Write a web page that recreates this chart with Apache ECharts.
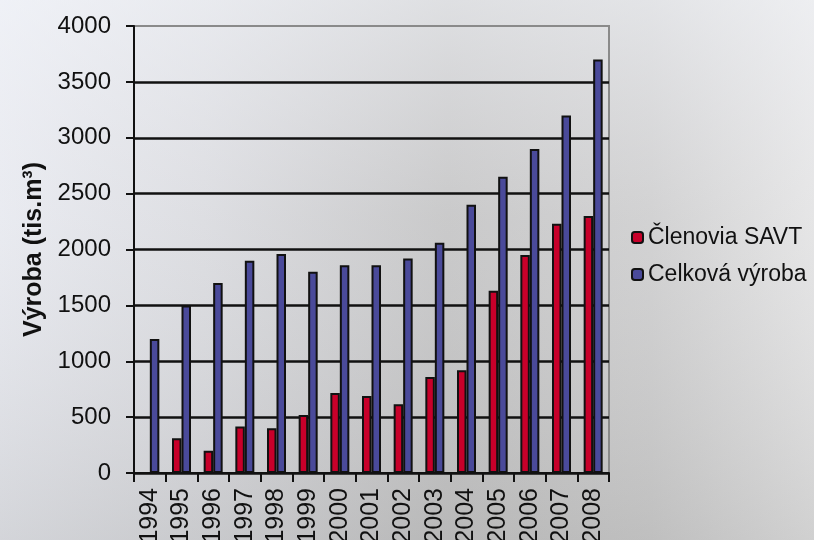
<!DOCTYPE html>
<html><head><meta charset="utf-8">
<script src="https://cdn.jsdelivr.net/npm/echarts@6/dist/echarts.min.js"></script>
<style>html,body{margin:0;padding:0;}#c{width:814px;height:540px;}</style>
</head><body><div id="c"></div>
<script>
const years = ['1994','1995','1996','1997','1998','1999','2000','2001','2002','2003','2004','2005','2006','2007','2008'];
const clenovia = [0,310,200,415,400,520,715,690,615,860,920,1630,1950,2230,2300];
const celkova = [1200,1500,1700,1900,1960,1800,1860,1860,1920,2060,2400,2650,2900,3200,3700];
const yTicks = [0,500,1000,1500,2000,2500,3000,3500,4000];

const chart = echarts.init(document.getElementById('c'));
chart.setOption({
  animation:false,
  backgroundColor:{type:'linear',x:0,y:0,x2:1,y2:0,colorStops:[
    {offset:0,color:'#e8eaf0'},{offset:0.25,color:'#dadbdf'},{offset:0.55,color:'#c3c3c3'},{offset:0.8,color:'#cdcdcd'},{offset:1,color:'#e4e4e4'}]},
  graphic:[{type:'rect',silent:true,z:-1,shape:{x:0,y:0,width:814,height:540},
    style:{fill:{type:'linear',x:0,y:0,x2:0,y2:1,colorStops:[
      {offset:0,color:'rgba(245,247,252,0.55)'},{offset:0.4,color:'rgba(240,240,245,0.15)'},{offset:1,color:'rgba(150,150,150,0.25)'}]}}}],
  textStyle:{fontFamily:'Liberation Sans, Arial, sans-serif'},
  grid:{left:134,right:205,top:26,bottom:67,outerBoundsMode:'none',containLabel:false,show:true,borderColor:'#8a8a8a',borderWidth:2,backgroundColor:'transparent'},
  legend:{orient:'vertical',left:626,top:221,itemWidth:11,itemHeight:11,itemGap:14,
    textStyle:{fontSize:23,color:'#111',fontFamily:'Liberation Sans, Arial, sans-serif'},
    data:['Členovia SAVT','Celková výroba']},
  xAxis:{type:'category',data:years,
    axisLine:{lineStyle:{color:'#111',width:2}},
    axisTick:{show:true,length:9,lineStyle:{color:'#111',width:2}},
    axisLabel:{rotate:90,fontSize:25,color:'#111',margin:15,interval:0}},
  yAxis:{type:'value',min:0,max:4000,interval:500,
    name:'Výroba (tis.m³)',nameLocation:'middle',nameGap:86,nameRotate:90,
    nameTextStyle:{fontSize:25,fontWeight:'bold',color:'#111'},
    axisLine:{show:true,lineStyle:{color:'#111',width:2}},
    axisTick:{show:true,length:8,lineStyle:{color:'#111',width:2}},
    axisLabel:{fontSize:24,color:'#111',margin:23,
      formatter:v=>yTicks.includes(v)?String(v):''},
    splitLine:{show:true,showMaxLine:false,lineStyle:{color:'#111',width:2.5}}},
  series:[
    {name:'Členovia SAVT',type:'bar',data:clenovia,barWidth:9.5,barGap:'0%',
     itemStyle:{color:'#c8002a',borderColor:'#111',borderWidth:2}},
    {name:'Celková výroba',type:'bar',data:celkova,barWidth:9.5,barGap:'0%',
     itemStyle:{color:'#4a4a9a',borderColor:'#111',borderWidth:2}}
  ]
});
</script></body></html>
